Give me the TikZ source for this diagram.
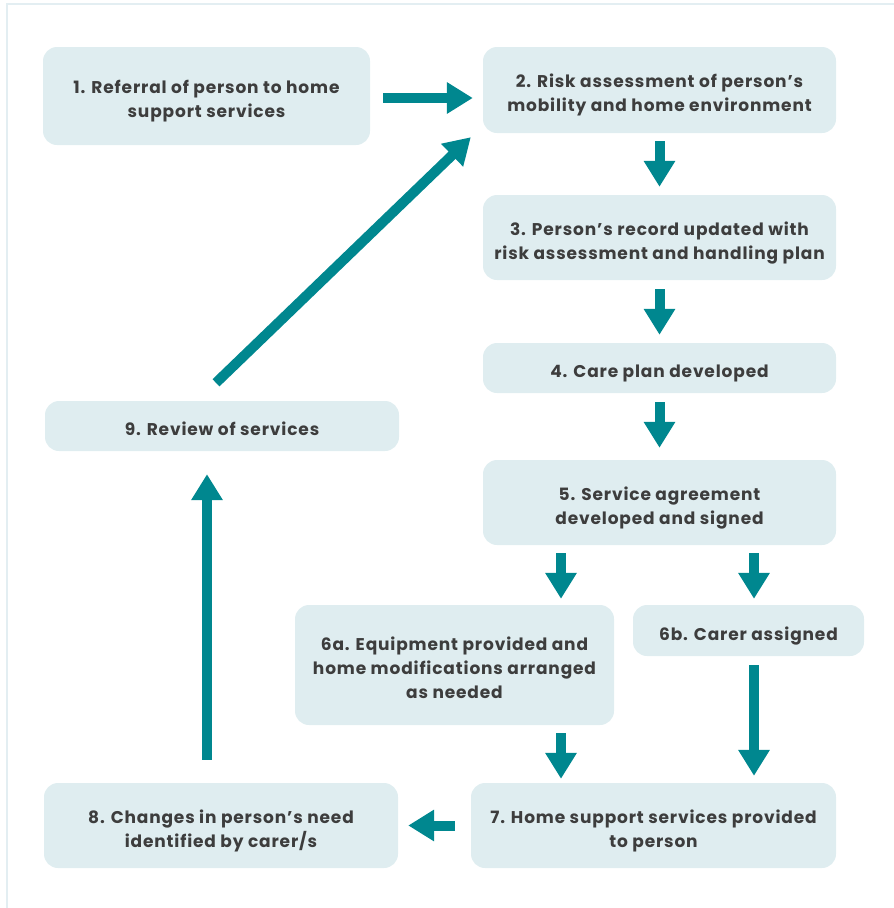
\documentclass[tikz,border=0pt]{standalone}
\usepackage{fontspec}
\setmainfont{Poppins}[LetterSpace=5]
\usetikzlibrary{arrows.meta}
\definecolor{boxfill}{HTML}{DFEDF0}
\definecolor{teal}{HTML}{00878F}
\definecolor{txt}{HTML}{3D3D3D}
\definecolor{frame}{HTML}{E3EEF2}
\newcommand{\bxt}[1]{\raisebox{-5pt}[\height][\depth]{\begin{tabular}{@{}c@{}}#1\end{tabular}}}
\tikzset{
  stepbox/.style={fill=boxfill, rounded corners=14pt, inner sep=0pt, align=center,
    text=txt, font=\fontsize{17}{24}\selectfont\bfseries},
  arr/.style={draw=teal, line width=10pt, -{Triangle[width=30pt,length=26pt]}, teal}
}
\begin{document}
\begin{tikzpicture}[x=1pt,y=-1pt]
\useasboundingbox (0,0) rectangle (894,908);
\draw[frame, line width=2.5pt] (7,908) -- (7,4) -- (894,4);
\node[stepbox, minimum width=327pt, minimum height=98pt] (n1) at (206.5,96) {\bxt{1. Referral of person to home\\support services}};
\node[stepbox, minimum width=353pt, minimum height=86pt] (n2) at (659.5,90) {\bxt{2. Risk assessment of person’s\\mobility and home environment}};
\node[stepbox, minimum width=353pt, minimum height=85pt] (n3) at (659.5,237.5) {\bxt{3. Person’s record updated with\\risk assessment and handling plan}};
\node[stepbox, minimum width=353pt, minimum height=50pt] (n4) at (659.5,368) {\bxt{4. Care plan developed}};
\node[stepbox, minimum width=353pt, minimum height=85pt] (n5) at (659.5,502.5) {\bxt{5. Service agreement\\developed and signed}};
\node[stepbox, minimum width=319pt, minimum height=120pt] (n6a) at (454.5,665) {\bxt{6a. Equipment provided and\\home modifications arranged\\as needed}};
\node[stepbox, minimum width=231pt, minimum height=51pt] (n6b) at (748.5,630.5) {\bxt{6b. Carer assigned}};
\node[stepbox, minimum width=365pt, minimum height=85pt] (n7) at (653.5,825.5) {\bxt{7. Home support services provided\\to person}};
\node[stepbox, minimum width=354pt, minimum height=85pt] (n8) at (221,825.5) {\bxt{8. Changes in person’s need\\identified by carer/s}};
\node[stepbox, minimum width=354pt, minimum height=50pt] (n9) at (222,426) {\bxt{9. Review of services}};

\draw[arr] ([xshift=13pt,yshift=-2pt]n1.east) -- ([xshift=-10pt,yshift=-8pt]n2.west);
\draw[arr] ([yshift=-8pt]n2.south) -- ([yshift=8pt]n3.north);
\draw[arr] ([yshift=-9pt]n3.south) -- ([yshift=8pt]n4.north);
\draw[arr] ([yshift=-9pt]n4.south) -- ([yshift=12pt]n5.north);
\draw[arr] ([xshift=-98.5pt,yshift=-8pt]n5.south) -- ([xshift=106.5pt,yshift=6pt]n6a.north);
\draw[arr] ([xshift=94.5pt,yshift=-8pt]n5.south) -- ([xshift=5.5pt,yshift=6pt]n6b.north);
\draw[arr] ([xshift=106.5pt,yshift=-8pt]n6a.south) -- ([xshift=-92.5pt,yshift=4pt]n7.north);
\draw[arr] ([xshift=5.5pt,yshift=-9pt]n6b.south) -- ([xshift=100.5pt,yshift=7pt]n7.north);
\draw[arr] ([xshift=-16pt]n7.west) -- ([xshift=10pt]n8.east);
\draw[arr] ([xshift=-14pt,yshift=23pt]n8.north) -- ([xshift=-15pt,yshift=-23pt]n9.south);
\draw[arr] ([xshift=-6pt,yshift=18pt]n9.north) -- ([xshift=-12pt,yshift=-4pt]n2.south west);
\end{tikzpicture}
\end{document}
